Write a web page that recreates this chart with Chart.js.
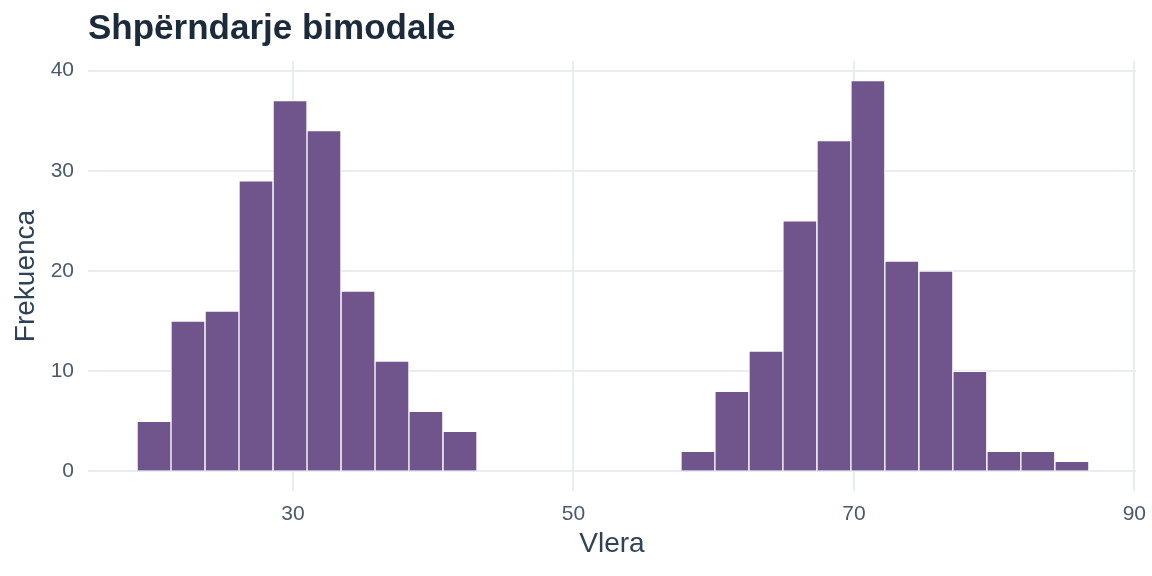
<!DOCTYPE html>
<html>
<head>
<meta charset="utf-8">
<script src="https://cdn.jsdelivr.net/npm/chart.js@4.4.1/dist/chart.umd.min.js"></script>
<style>
  html, body { margin: 0; padding: 0; background: #ffffff; }
  #wrap { width: 1152px; height: 576px; }
</style>
</head>
<body>
<div id="wrap"><canvas id="c" width="1152" height="576"></canvas></div>
<script>
// Data
const chartTitle = "Shpërndarje bimodale";
const xAxisTitle = "Vlera";
const yAxisTitle = "Frekuenca";
const binCenters = [20.09, 22.51, 24.94, 27.36, 29.79, 32.21, 34.64, 37.06, 39.48, 41.91,
                    58.88, 61.30, 63.73, 66.15, 68.58, 71.00, 73.42, 75.85, 78.27, 80.70, 83.12, 85.55];
const counts     = [5, 15, 16, 29, 37, 34, 18, 11, 6, 4,
                    2, 8, 12, 25, 33, 39, 21, 20, 10, 2, 2, 1];
const xTicks = [30, 50, 70, 90];
const yTicks = [0, 10, 20, 30, 40];

const FONT = "'Liberation Sans', Arial, Helvetica, sans-serif";

const titlePlugin = {
  id: 'ggTitle',
  afterDraw(chart) {
    const ctx = chart.ctx;
    ctx.save();
    ctx.font = "bold 35px " + FONT;
    ctx.fillStyle = "#1B2B3B";
    ctx.textAlign = "left";
    ctx.textBaseline = "alphabetic";
    ctx.fillText(chartTitle, chart.chartArea.left, 39);
    ctx.restore();
  }
};

new Chart(document.getElementById('c'), {
  type: 'bar',
  data: {
    datasets: [{
      data: binCenters.map((x, i) => ({ x: x, y: counts[i] })),
      backgroundColor: '#70558D',
      borderColor: '#ffffff',
      borderWidth: 1,
      borderSkipped: 'start',
      barPercentage: 1.0,
      categoryPercentage: 1.0
    }]
  },
  plugins: [titlePlugin],
  options: {
    responsive: false,
    animation: false,
    devicePixelRatio: 1,
    layout: { padding: { top: 61, left: 0, right: 16, bottom: 0 } },
    plugins: {
      legend: { display: false },
      tooltip: { enabled: false },
      title: { display: false }
    },
    scales: {
      x: {
        type: 'linear',
        min: 15.38,
        max: 90.12,
        offset: false,
        border: { display: false },
        grid: { color: '#E9EDF2', lineWidth: 2, drawTicks: false, offset: false },
        afterBuildTicks: (s) => { s.ticks = xTicks.map(v => ({ value: v })); },
        afterFit: (s) => { s.height = 85; s.paddingLeft = 0; s.paddingRight = 0; },
        ticks: {
          padding: 11,
          color: '#4A5A6B',
          font: { family: FONT, size: 21 },
          maxRotation: 0,
          callback: (v) => String(v)
        },
        title: {
          display: true,
          text: xAxisTitle,
          color: '#2F4257',
          font: { family: FONT, size: 28 },
          padding: { top: 0, bottom: 15 }
        }
      },
      y: {
        type: 'linear',
        min: -1.95,
        max: 40.95,
        border: { display: false },
        grid: { color: '#E9EDF2', lineWidth: 2, drawTicks: false },
        afterBuildTicks: (s) => { s.ticks = yTicks.map(v => ({ value: v })); },
        afterFit: (s) => { s.width = 88; },
        ticks: {
          padding: 14,
          color: '#4A5A6B',
          font: { family: FONT, size: 21 },
          callback: (v) => String(v)
        },
        title: {
          display: true,
          text: yAxisTitle,
          color: '#2F4257',
          font: { family: FONT, size: 28 },
          padding: { top: 9, bottom: 0 }
        }
      }
    }
  }
});
</script>
</body>
</html>
